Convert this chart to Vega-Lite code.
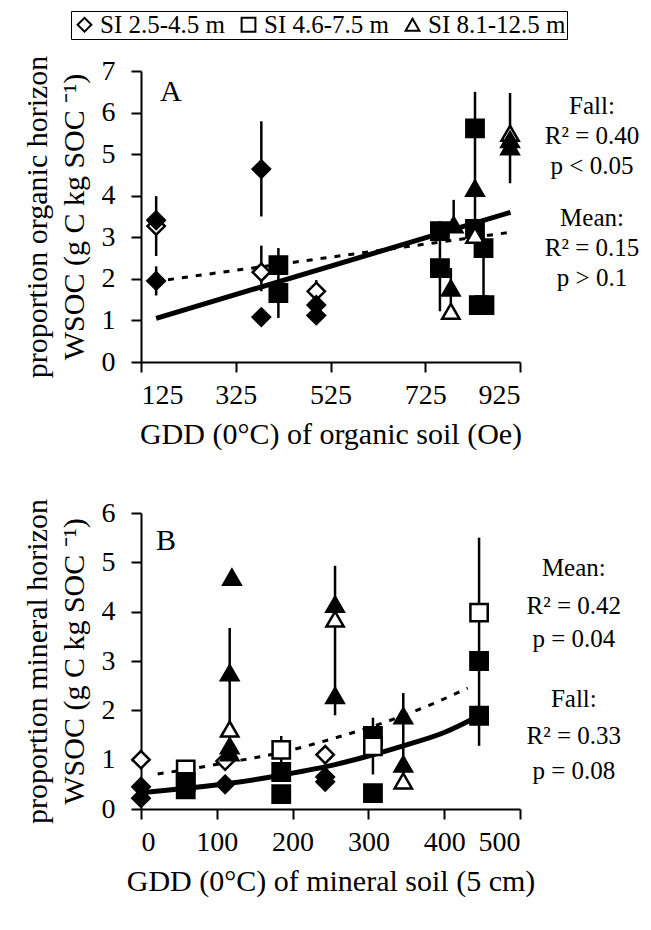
{
  "$schema": "https://vega.github.io/schema/vega-lite/v6.json",
  "padding": {"left": 21, "top": 10, "right": 4, "bottom": 4},
  "config": {
    "font": "Liberation Serif",
    "view": {"stroke": null},
    "axis": {
      "grid": false,
      "domainColor": "black",
      "domainWidth": 2,
      "tickColor": "black",
      "tickWidth": 2,
      "tickSize": 10,
      "labelFont": "Liberation Serif",
      "labelFontSize": 28,
      "labelColor": "black",
      "titleFont": "Liberation Serif",
      "titleFontSize": 30,
      "titleFontWeight": "normal",
      "titleColor": "black"
    },
    "axisX": {"labelPadding": 9, "titlePadding": 10},
    "axisY": {"labelPadding": 16, "titlePadding": 12, "titleLineHeight": 37},
    "legend": {
      "direction": "horizontal",
      "strokeColor": "black",
      "padding": 1,
      "labelFont": "Liberation Serif",
      "labelFontSize": 25,
      "labelColor": "black",
      "symbolStrokeColor": "black",
      "symbolFillColor": "white",
      "symbolStrokeWidth": 2,
      "symbolSize": 190,
      "columnPadding": 11,
      "labelOffset": 3
    }
  },
  "datasets": {
    "ptsA": [
      {"gdd": 157, "wsoc": 3.27, "si": "SI 2.5-4.5 m", "type": "Mean"},
      {"gdd": 157, "wsoc": 3.41, "si": "SI 2.5-4.5 m", "type": "Fall"},
      {"gdd": 157, "wsoc": 1.95, "si": "SI 2.5-4.5 m", "type": "Fall"},
      {"gdd": 379, "wsoc": 4.64, "si": "SI 2.5-4.5 m", "type": "Fall"},
      {"gdd": 379, "wsoc": 2.16, "si": "SI 2.5-4.5 m", "type": "Mean"},
      {"gdd": 379, "wsoc": 1.08, "si": "SI 2.5-4.5 m", "type": "Fall"},
      {"gdd": 495, "wsoc": 1.70, "si": "SI 2.5-4.5 m", "type": "Mean"},
      {"gdd": 495, "wsoc": 1.37, "si": "SI 2.5-4.5 m", "type": "Fall"},
      {"gdd": 495, "wsoc": 1.12, "si": "SI 2.5-4.5 m", "type": "Fall"},
      {"gdd": 415, "wsoc": 2.33, "si": "SI 4.6-7.5 m", "type": "Fall"},
      {"gdd": 415, "wsoc": 1.66, "si": "SI 4.6-7.5 m", "type": "Fall"},
      {"gdd": 756, "wsoc": 3.15, "si": "SI 4.6-7.5 m", "type": "Fall"},
      {"gdd": 756, "wsoc": 2.26, "si": "SI 4.6-7.5 m", "type": "Fall"},
      {"gdd": 830, "wsoc": 5.62, "si": "SI 4.6-7.5 m", "type": "Fall"},
      {"gdd": 830, "wsoc": 3.2, "si": "SI 4.6-7.5 m", "type": "Fall"},
      {"gdd": 848, "wsoc": 2.74, "si": "SI 4.6-7.5 m", "type": "Fall"},
      {"gdd": 838, "wsoc": 1.37, "si": "SI 4.6-7.5 m", "type": "Fall"},
      {"gdd": 850, "wsoc": 1.37, "si": "SI 4.6-7.5 m", "type": "Fall"},
      {"gdd": 785, "wsoc": 3.3, "si": "SI 8.1-12.5 m", "type": "Fall"},
      {"gdd": 779, "wsoc": 1.78, "si": "SI 8.1-12.5 m", "type": "Fall"},
      {"gdd": 779, "wsoc": 1.22, "si": "SI 8.1-12.5 m", "type": "Mean"},
      {"gdd": 830, "wsoc": 4.18, "si": "SI 8.1-12.5 m", "type": "Fall"},
      {"gdd": 830, "wsoc": 3.05, "si": "SI 8.1-12.5 m", "type": "Mean"},
      {"gdd": 904, "wsoc": 5.5, "si": "SI 8.1-12.5 m", "type": "Mean"},
      {"gdd": 904, "wsoc": 5.35, "si": "SI 8.1-12.5 m", "type": "Fall"},
      {"gdd": 904, "wsoc": 5.18, "si": "SI 8.1-12.5 m", "type": "Fall"}
    ],
    "errA": [
      {"gdd": 157, "lo": 2.55, "hi": 3.99},
      {"gdd": 157, "lo": 1.6, "hi": 2.3},
      {"gdd": 379, "lo": 3.5, "hi": 5.79},
      {"gdd": 379, "lo": 1.7, "hi": 2.8},
      {"gdd": 415, "lo": 1.06, "hi": 2.74},
      {"gdd": 495, "lo": 1.1, "hi": 1.97},
      {"gdd": 756, "lo": 1.22, "hi": 3.39},
      {"gdd": 779, "lo": 1.22, "hi": 2.26},
      {"gdd": 785, "lo": 3.3, "hi": 3.9},
      {"gdd": 830, "lo": 3.2, "hi": 6.5},
      {"gdd": 848, "lo": 1.25, "hi": 2.74},
      {"gdd": 904, "lo": 4.3, "hi": 6.47}
    ],
    "lineA": [
      {"gdd": 157, "wsoc": 1.05, "fit": "Fall"},
      {"gdd": 905, "wsoc": 3.6, "fit": "Fall"},
      {"gdd": 182, "wsoc": 1.98, "fit": "Mean"},
      {"gdd": 905, "wsoc": 3.12, "fit": "Mean"}
    ],
    "txtA": [
      {"x": 1077, "y": 6.15, "t": "Fall:"},
      {"x": 1077, "y": 5.43, "t": "R² = 0.40"},
      {"x": 1077, "y": 4.71, "t": "p < 0.05"},
      {"x": 1077, "y": 3.46, "t": "Mean:"},
      {"x": 1077, "y": 2.74, "t": "R² = 0.15"},
      {"x": 1077, "y": 2.02, "t": "p > 0.1"}
    ],
    "ptsB": [
      {"gdd": 0, "wsoc": 1.0, "si": "SI 2.5-4.5 m", "type": "Mean"},
      {"gdd": 0, "wsoc": 0.45, "si": "SI 2.5-4.5 m", "type": "Fall"},
      {"gdd": 0, "wsoc": 0.22, "si": "SI 2.5-4.5 m", "type": "Fall"},
      {"gdd": 111, "wsoc": 0.97, "si": "SI 2.5-4.5 m", "type": "Mean"},
      {"gdd": 111, "wsoc": 0.5, "si": "SI 2.5-4.5 m", "type": "Fall"},
      {"gdd": 243, "wsoc": 1.1, "si": "SI 2.5-4.5 m", "type": "Mean"},
      {"gdd": 243, "wsoc": 0.65, "si": "SI 2.5-4.5 m", "type": "Fall"},
      {"gdd": 243, "wsoc": 0.55, "si": "SI 2.5-4.5 m", "type": "Fall"},
      {"gdd": 59, "wsoc": 0.8, "si": "SI 4.6-7.5 m", "type": "Mean"},
      {"gdd": 59, "wsoc": 0.55, "si": "SI 4.6-7.5 m", "type": "Fall"},
      {"gdd": 59, "wsoc": 0.4, "si": "SI 4.6-7.5 m", "type": "Fall"},
      {"gdd": 185, "wsoc": 0.75, "si": "SI 4.6-7.5 m", "type": "Fall"},
      {"gdd": 185, "wsoc": 0.3, "si": "SI 4.6-7.5 m", "type": "Fall"},
      {"gdd": 185, "wsoc": 1.2, "si": "SI 4.6-7.5 m", "type": "Mean"},
      {"gdd": 306, "wsoc": 1.48, "si": "SI 4.6-7.5 m", "type": "Fall"},
      {"gdd": 306, "wsoc": 1.27, "si": "SI 4.6-7.5 m", "type": "Mean"},
      {"gdd": 306, "wsoc": 0.32, "si": "SI 4.6-7.5 m", "type": "Fall"},
      {"gdd": 446, "wsoc": 3.98, "si": "SI 4.6-7.5 m", "type": "Mean"},
      {"gdd": 446, "wsoc": 3.0, "si": "SI 4.6-7.5 m", "type": "Fall"},
      {"gdd": 446, "wsoc": 1.89, "si": "SI 4.6-7.5 m", "type": "Fall"},
      {"gdd": 117, "wsoc": 2.76, "si": "SI 8.1-12.5 m", "type": "Fall"},
      {"gdd": 117, "wsoc": 1.62, "si": "SI 8.1-12.5 m", "type": "Mean"},
      {"gdd": 117, "wsoc": 1.28, "si": "SI 8.1-12.5 m", "type": "Fall"},
      {"gdd": 117, "wsoc": 1.14, "si": "SI 8.1-12.5 m", "type": "Fall"},
      {"gdd": 120, "wsoc": 4.7, "si": "SI 8.1-12.5 m", "type": "Fall"},
      {"gdd": 256, "wsoc": 4.15, "si": "SI 8.1-12.5 m", "type": "Fall"},
      {"gdd": 256, "wsoc": 3.85, "si": "SI 8.1-12.5 m", "type": "Mean"},
      {"gdd": 256, "wsoc": 2.3, "si": "SI 8.1-12.5 m", "type": "Fall"},
      {"gdd": 346, "wsoc": 1.89, "si": "SI 8.1-12.5 m", "type": "Fall"},
      {"gdd": 346, "wsoc": 0.91, "si": "SI 8.1-12.5 m", "type": "Fall"},
      {"gdd": 346, "wsoc": 0.57, "si": "SI 8.1-12.5 m", "type": "Mean"}
    ],
    "errB": [
      {"gdd": 117, "lo": 0.93, "hi": 3.67},
      {"gdd": 256, "lo": 1.9, "hi": 4.93},
      {"gdd": 185, "lo": 0.75, "hi": 1.48},
      {"gdd": 306, "lo": 0.7, "hi": 1.85},
      {"gdd": 346, "lo": 0.4, "hi": 2.35},
      {"gdd": 446, "lo": 1.28, "hi": 5.5}
    ],
    "lineB": [
      {"gdd": 0, "wsoc": 0.33, "fit": "Fall"},
      {"gdd": 60, "wsoc": 0.42, "fit": "Fall"},
      {"gdd": 117, "wsoc": 0.52, "fit": "Fall"},
      {"gdd": 190, "wsoc": 0.7, "fit": "Fall"},
      {"gdd": 256, "wsoc": 0.9, "fit": "Fall"},
      {"gdd": 306, "wsoc": 1.1, "fit": "Fall"},
      {"gdd": 346, "wsoc": 1.28, "fit": "Fall"},
      {"gdd": 400, "wsoc": 1.55, "fit": "Fall"},
      {"gdd": 446, "wsoc": 1.89, "fit": "Fall"},
      {"gdd": 22, "wsoc": 0.71, "fit": "Mean"},
      {"gdd": 60, "wsoc": 0.8, "fit": "Mean"},
      {"gdd": 117, "wsoc": 0.95, "fit": "Mean"},
      {"gdd": 177, "wsoc": 1.12, "fit": "Mean"},
      {"gdd": 256, "wsoc": 1.44, "fit": "Mean"},
      {"gdd": 322, "wsoc": 1.76, "fit": "Mean"},
      {"gdd": 380, "wsoc": 2.1, "fit": "Mean"},
      {"gdd": 431, "wsoc": 2.45, "fit": "Mean"}
    ],
    "txtB": [
      {"x": 571, "y": 4.89, "t": "Mean:"},
      {"x": 571, "y": 4.12, "t": "R² = 0.42"},
      {"x": 571, "y": 3.45, "t": "p = 0.04"},
      {"x": 571, "y": 2.23, "t": "Fall:"},
      {"x": 571, "y": 1.48, "t": "R² = 0.33"},
      {"x": 571, "y": 0.77, "t": "p = 0.08"}
    ],
    "lblA": [{"x": 188, "y": 6.5, "t": "A"}],
    "lblB": [{"x": 33, "y": 5.44, "t": "B"}]
  },
  "resolve": {"scale": {"shape": "shared", "fill": "shared"}, "legend": {"shape": "shared"}},
  "spacing": 49,
  "vconcat": [
    {
      "width": 379,
      "height": 291,
      "encoding": {
        "x": {"type": "quantitative", "scale": {"domain": [125, 925], "nice": false}, "axis": {"values": [125, 325, 525, 725, 925], "title": "GDD (0°C) of organic soil (Oe)"}},
        "y": {"type": "quantitative", "scale": {"domain": [0, 7], "nice": false}, "axis": {"values": [0, 1, 2, 3, 4, 5, 6, 7], "title": ["proportion organic horizon", "WSOC (g C kg SOC ⁻¹)"]}}
      },
      "layer": [
        {
          "data": {"name": "errA"},
          "mark": {"type": "rule", "color": "black", "strokeWidth": 2.5},
          "encoding": {"x": {"field": "gdd"}, "y": {"field": "lo"}, "y2": {"field": "hi"}}
        },
        {
          "data": {"name": "lineA"},
          "transform": [{"filter": "datum.fit === 'Fall'"}],
          "mark": {"type": "line", "color": "black", "strokeWidth": 5},
          "encoding": {"x": {"field": "gdd"}, "y": {"field": "wsoc"}}
        },
        {
          "data": {"name": "lineA"},
          "transform": [{"filter": "datum.fit === 'Mean'"}],
          "mark": {"type": "line", "color": "black", "strokeWidth": 3, "strokeDash": [6, 8]},
          "encoding": {"x": {"field": "gdd"}, "y": {"field": "wsoc"}}
        },
        {
          "data": {"name": "ptsA"},
          "mark": {"type": "point", "stroke": "black", "strokeWidth": 2.5, "opacity": 1, "fillOpacity": 1, "size": 300},
          "encoding": {
            "x": {"field": "gdd"},
            "y": {"field": "wsoc"},
            "shape": {"field": "si", "type": "nominal", "scale": {"domain": ["SI 2.5-4.5 m", "SI 4.6-7.5 m", "SI 8.1-12.5 m"], "range": ["diamond", "square", "triangle-up"]}, "legend": {"title": null, "orient": "none", "legendX": -70, "legendY": -60}},
            "fill": {"field": "type", "type": "nominal", "scale": {"domain": ["Fall", "Mean"], "range": ["black", "white"]}, "legend": null}
          }
        },
        {
          "data": {"name": "txtA"},
          "mark": {"type": "text", "fontSize": 25, "color": "black", "align": "center", "baseline": "middle"},
          "encoding": {"x": {"field": "x"}, "y": {"field": "y"}, "text": {"field": "t"}}
        },
        {
          "data": {"name": "lblA"},
          "mark": {"type": "text", "fontSize": 30, "color": "black", "align": "center", "baseline": "middle"},
          "encoding": {"x": {"field": "x"}, "y": {"field": "y"}, "text": {"field": "t"}}
        }
      ]
    },
    {
      "width": 379,
      "height": 296,
      "encoding": {
        "x": {"type": "quantitative", "scale": {"domain": [0, 500], "nice": false}, "axis": {"values": [0, 100, 200, 300, 400, 500], "title": "GDD (0°C) of mineral soil (5 cm)"}},
        "y": {"type": "quantitative", "scale": {"domain": [0, 6], "nice": false}, "axis": {"values": [0, 1, 2, 3, 4, 5, 6], "title": ["proportion mineral horizon", "WSOC (g C kg SOC ⁻¹)"]}}
      },
      "layer": [
        {
          "data": {"name": "errB"},
          "mark": {"type": "rule", "color": "black", "strokeWidth": 2.5},
          "encoding": {"x": {"field": "gdd"}, "y": {"field": "lo"}, "y2": {"field": "hi"}}
        },
        {
          "data": {"name": "lineB"},
          "transform": [{"filter": "datum.fit === 'Fall'"}],
          "mark": {"type": "line", "color": "black", "strokeWidth": 5, "interpolate": "monotone"},
          "encoding": {"x": {"field": "gdd"}, "y": {"field": "wsoc"}}
        },
        {
          "data": {"name": "lineB"},
          "transform": [{"filter": "datum.fit === 'Mean'"}],
          "mark": {"type": "line", "color": "black", "strokeWidth": 3, "strokeDash": [6, 8], "interpolate": "monotone"},
          "encoding": {"x": {"field": "gdd"}, "y": {"field": "wsoc"}}
        },
        {
          "data": {"name": "ptsB"},
          "mark": {"type": "point", "stroke": "black", "strokeWidth": 2.5, "opacity": 1, "fillOpacity": 1, "size": 300},
          "encoding": {
            "x": {"field": "gdd"},
            "y": {"field": "wsoc"},
            "shape": {"field": "si", "type": "nominal", "legend": {"title": null, "orient": "none", "legendX": -70, "legendY": -60}},
            "fill": {"field": "type", "type": "nominal", "legend": null}
          }
        },
        {
          "data": {"name": "txtB"},
          "mark": {"type": "text", "fontSize": 25, "color": "black", "align": "center", "baseline": "middle"},
          "encoding": {"x": {"field": "x"}, "y": {"field": "y"}, "text": {"field": "t"}}
        },
        {
          "data": {"name": "lblB"},
          "mark": {"type": "text", "fontSize": 30, "color": "black", "align": "center", "baseline": "middle"},
          "encoding": {"x": {"field": "x"}, "y": {"field": "y"}, "text": {"field": "t"}}
        }
      ]
    }
  ]
}
